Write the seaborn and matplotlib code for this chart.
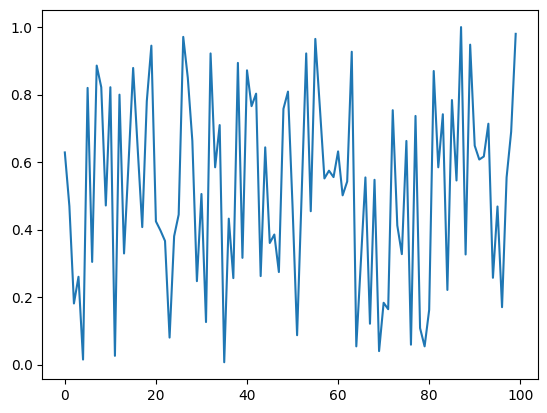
import numpy as np
import pandas as pd
import matplotlib
matplotlib.use('Agg')
import matplotlib.pyplot as plt
import seaborn as sns

# values, index 0..99
values = [
    0.629, 0.47, 0.182, 0.261, 0.016, 0.820, 0.305, 0.886, 0.822, 0.472,
    0.822, 0.027, 0.800, 0.330, 0.600, 0.879, 0.640, 0.408, 0.781, 0.945,
    0.425, 0.398, 0.367, 0.081, 0.381, 0.445, 0.971, 0.850, 0.663, 0.248,
    0.506, 0.127, 0.922, 0.585, 0.710, 0.008, 0.433, 0.257, 0.894, 0.317,
    0.872, 0.766, 0.803, 0.263, 0.644, 0.361, 0.386, 0.275, 0.758, 0.809,
    0.47, 0.088, 0.505, 0.922, 0.455, 0.965, 0.762, 0.552, 0.575, 0.556,
    0.632, 0.502, 0.543, 0.927, 0.055, 0.305, 0.555, 0.122, 0.548, 0.041,
    0.184, 0.165, 0.754, 0.413, 0.328, 0.663, 0.060, 0.737, 0.109, 0.055,
    0.163, 0.870, 0.585, 0.742, 0.222, 0.784, 0.546, 1.000, 0.327, 0.948,
    0.649, 0.608, 0.617, 0.714, 0.258, 0.469, 0.171, 0.555, 0.690, 0.980,
]
index = list(range(len(values)))

df = pd.DataFrame({'x': index, 'y': values})

fig, ax = plt.subplots(figsize=(5.47, 4.13), dpi=100)
fig.subplots_adjust(left=0.0773, right=0.984, bottom=0.0823, top=0.975)

sns.lineplot(data=df, x='x', y='y', ax=ax, color='#1f77b4', linewidth=1.5)
ax.set_xlabel('')
ax.set_ylabel('')

fig.savefig('out.png', dpi=100)
